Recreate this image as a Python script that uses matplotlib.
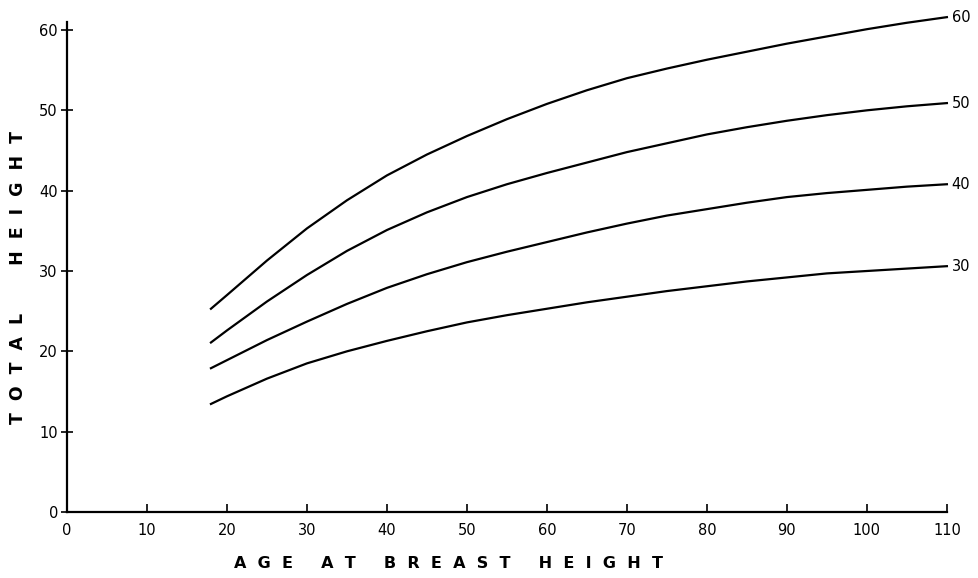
#!/usr/bin/env python3
# site index curves: total height vs age at breast height

import matplotlib
matplotlib.use("Agg")
import matplotlib.pyplot as plt

age = [18, 20, 25, 30, 35, 40, 45, 50, 55, 60, 65, 70, 75, 80, 85, 90, 95, 100, 105, 110]

si_60 = [25.3, 27.0, 31.3, 35.3, 38.8, 41.9, 44.5, 46.8, 48.9, 50.8,
         52.5, 54.0, 55.2, 56.3, 57.3, 58.3, 59.2, 60.1, 60.9, 61.6]
si_50 = [21.1, 22.6, 26.2, 29.5, 32.5, 35.1, 37.3, 39.2, 40.8, 42.2,
         43.5, 44.8, 45.9, 47.0, 47.9, 48.7, 49.4, 50.0, 50.5, 50.9]
si_40 = [17.9, 18.9, 21.4, 23.7, 25.9, 27.9, 29.6, 31.1, 32.4, 33.6,
         34.8, 35.9, 36.9, 37.7, 38.5, 39.2, 39.7, 40.1, 40.5, 40.8]
si_30 = [13.45, 14.4, 16.6, 18.5, 20.0, 21.3, 22.5, 23.6, 24.5, 25.3,
         26.1, 26.8, 27.5, 28.1, 28.7, 29.2, 29.7, 30.0, 30.3, 30.6]

curves = [("60", si_60), ("50", si_50), ("40", si_40), ("30", si_30)]

x_ticks = list(range(0, 111, 10))
y_ticks = list(range(0, 61, 10))


def plot(ax):
    for name, h in curves:
        ax.plot(age, h, color="black", linewidth=1.6, clip_on=False)
        # curve label at the right end
        ax.text(age[-1] + 0.6, h[-1], name, ha="left", va="center", fontsize=10.5)

    ax.set_xlim(0, 110)
    ax.set_ylim(0, 61)
    ax.set_xticks(x_ticks)
    ax.set_yticks(y_ticks)
    ax.tick_params(axis="x", direction="in", length=6, width=1.2, pad=8, labelsize=10.5)
    ax.tick_params(axis="y", direction="inout", length=9, width=1.2, pad=2, labelsize=10.5)
    ax.xaxis.get_major_ticks()[0].tick1line.set_visible(False)

    for s in ["top", "right"]:
        ax.spines[s].set_visible(False)
    for s in ["left", "bottom"]:
        ax.spines[s].set_linewidth(1.6)


def main():
    fig = plt.figure(figsize=(9.79, 5.78), dpi=100)
    ax = fig.add_axes([0.0684, 0.1142, 0.8988, 0.8478])
    plot(ax)

    fig.text(448 / 979, 1 - 563 / 578,
             "A  G  E     A  T     B  R  E  A  S  T     H  E  I  G  H  T",
             ha="center", va="center", fontsize=11.5, fontweight="bold")
    fig.text(18 / 979, 1 - 277 / 578,
             "T  O  T  A  L        H  E  I  G  H  T",
             ha="center", va="center", rotation=90, fontsize=12.5, fontweight="bold")

    fig.savefig("out.png", dpi=100)


if __name__ == "__main__":
    main()
